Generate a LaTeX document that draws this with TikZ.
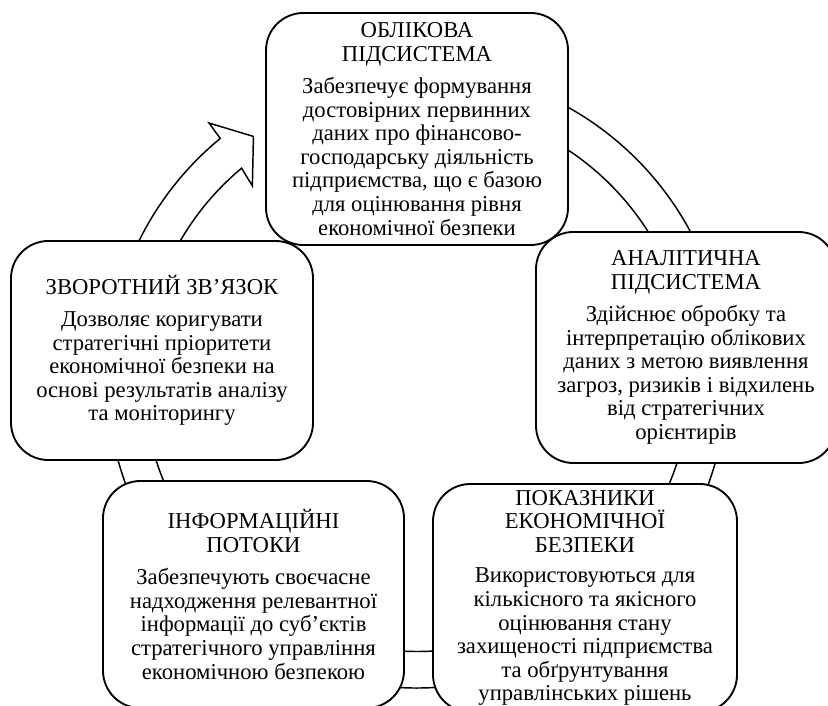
\documentclass[tikz,border=0pt]{standalone}
\usepackage{fontspec}
\setmainfont{Liberation Serif}
\newcommand{\bodytxt}{\fontsize{17}{17.7}\selectfont}
\tikzset{
  cyclebox/.style={draw, line width=1.4pt, fill=white, rounded corners=28pt,
    align=center, inner sep=0pt, font=\bodytxt},
  ringline/.style={draw, line width=1.1pt, line join=miter}
}
\begin{document}
\begin{tikzpicture}[x=0.75pt, y=0.75pt]
\useasboundingbox (0,0) rectangle (828,-706);
\clip (0,0) rectangle (828,-706);
\coordinate (C) at (417,-378);
% circular arrow behind the boxes
\begin{scope}[shift={(C)}]
\draw[ringline] (95:310) arc[start angle=95, end angle=-230.6, radius=310]
  -- (-230.8:329) -- (-235.9:291.75) -- (-229.4:253) -- (-230.1:273.5)
  arc[start angle=-230.1, end angle=95, radius=273.5] -- cycle;
\end{scope}
% boxes
\node[cyclebox, minimum width=226.5pt, minimum height=174pt] (obl) at (417,-129)
 {ОБЛІКОВА\\ПІДСИСТЕМА\\[6.5pt]Забезпечує формування\\достовірних первинних\\даних про фінансово-\\господарську діяльність\\підприємства, що є базою\\для оцінювання рівня\\економічної безпеки};
\node[cyclebox, minimum width=225pt, minimum height=173.25pt] (anal) at (686,-347.5)
 {АНАЛІТИЧНА\\ПІДСИСТЕМА\\[6.5pt]Здійснює обробку та\\інтерпретацію облікових\\даних з метою виявлення\\загроз, ризиків і відхилень\\від стратегічних\\орієнтирів};
\node[cyclebox, minimum width=228pt, minimum height=171pt] (pok) at (585,-598)
 {ПОКАЗНИКИ\\ЕКОНОМІЧНОЇ\\БЕЗПЕКИ\\[5pt]Використовуються для\\кількісного та якісного\\оцінювання стану\\захищеності підприємства\\та обґрунтування\\управлінських рішень};
\node[cyclebox, minimum width=225.75pt, minimum height=170.25pt] (inf) at (253.5,-594.5)
 {ІНФОРМАЦІЙНІ\\ПОТОКИ\\[6.5pt]Забезпечують своєчасне\\надходження релевантної\\інформації до суб’єктів\\стратегічного управління\\економічною безпекою};
\node[cyclebox, minimum width=226.5pt, minimum height=164.25pt] (zv) at (162,-350.5)
 {ЗВОРОТНИЙ ЗВ’ЯЗОК\\[6.5pt]Дозволяє коригувати\\стратегічні пріоритети\\економічної безпеки на\\основі результатів аналізу\\та моніторингу};
\end{tikzpicture}
\end{document}
